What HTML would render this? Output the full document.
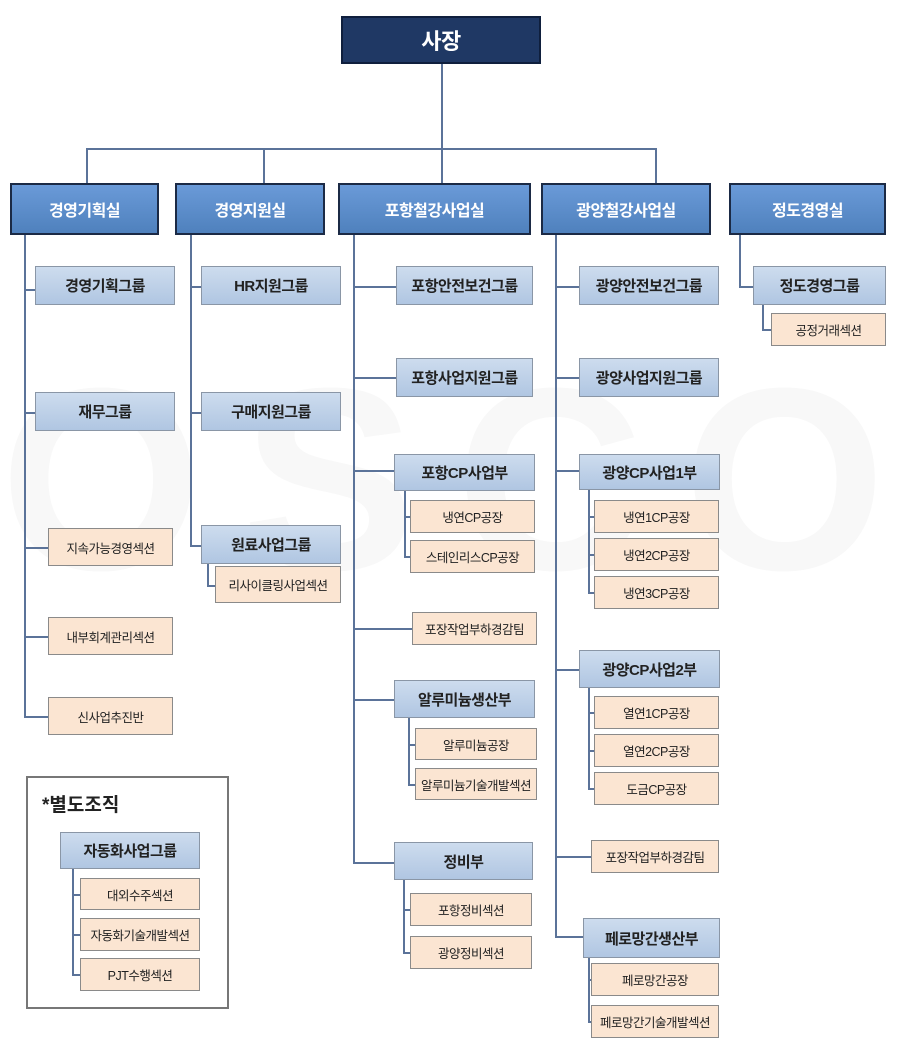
<!DOCTYPE html>
<html><head><meta charset="utf-8"><style>
body{margin:0;width:900px;height:1052px;background:#fff;position:relative;overflow:hidden;font-family:"Liberation Sans","Noto Sans CJK KR","NanumGothic",sans-serif}
div{position:absolute;box-sizing:border-box}
.b{display:flex;align-items:center;justify-content:center;white-space:nowrap;letter-spacing:-0.5px}
.top{background:#1f3864;color:#fff;font-size:22px;font-weight:bold;border:2px solid #0f1f3d}
.l1{background:linear-gradient(#6a9ad8,#4f81bd);color:#fff;font-size:16px;font-weight:bold;border:2px solid #1b2a45}
.l2{background:linear-gradient(#cddcee,#b0c6e2);color:#222;font-size:15px;font-weight:bold;border:1.5px solid #8a96a6}
.l3{background:#fbe5d2;color:#222;font-size:12.5px;border:1.5px solid #8a8a8a}
.h{height:1.5px;background:#5b7399}
.v{width:1.5px;background:#5b7399}
</style></head><body>
<div style="left:0;top:330px;width:900px;height:300px;color:#f8f8f8;font-size:260px;font-weight:bold;line-height:300px;letter-spacing:40px">OSCO</div>

<div class="b top" style="left:341px;top:16px;width:200px;height:48px">사장</div>
<div class="v" style="left:441px;top:64px;height:84px"></div>
<div class="h" style="left:86px;top:148px;width:570px"></div>
<div class="v" style="left:86px;top:148px;height:35px"></div>
<div class="v" style="left:263px;top:148px;height:35px"></div>
<div class="v" style="left:441px;top:148px;height:35px"></div>
<div class="v" style="left:655px;top:148px;height:35px"></div>

<div class="b l1" style="left:10px;top:183px;width:149px;height:52px">경영기획실</div>
<div class="b l1" style="left:175px;top:183px;width:150px;height:52px">경영지원실</div>
<div class="b l1" style="left:338px;top:183px;width:193px;height:52px">포항철강사업실</div>
<div class="b l1" style="left:541px;top:183px;width:170px;height:52px">광양철강사업실</div>
<div class="b l1" style="left:729px;top:183px;width:157px;height:52px">정도경영실</div>

<div class="v" style="left:24px;top:235px;height:481px"></div>
<div class="v" style="left:190px;top:235px;height:311px"></div>
<div class="v" style="left:353px;top:235px;height:627px"></div>
<div class="v" style="left:555px;top:235px;height:702px"></div>
<div class="v" style="left:739px;top:235px;height:52px"></div>

<div class="h" style="left:24px;top:289px;width:11px"></div>
<div class="h" style="left:24px;top:412px;width:11px"></div>
<div class="h" style="left:24px;top:547px;width:24px"></div>
<div class="h" style="left:24px;top:636px;width:24px"></div>
<div class="h" style="left:24px;top:716px;width:24px"></div>
<div class="b l2" style="left:35px;top:266px;width:140px;height:39px">경영기획그룹</div>
<div class="b l2" style="left:35px;top:392px;width:140px;height:39px">재무그룹</div>
<div class="b l3" style="left:48px;top:528px;width:125px;height:38px">지속가능경영섹션</div>
<div class="b l3" style="left:48px;top:617px;width:125px;height:38px">내부회계관리섹션</div>
<div class="b l3" style="left:48px;top:697px;width:125px;height:38px">신사업추진반</div>

<div class="h" style="left:190px;top:286px;width:11px"></div>
<div class="h" style="left:190px;top:412px;width:11px"></div>
<div class="h" style="left:190px;top:545px;width:11px"></div>
<div class="b l2" style="left:201px;top:266px;width:140px;height:39px">HR지원그룹</div>
<div class="b l2" style="left:201px;top:392px;width:140px;height:39px">구매지원그룹</div>
<div class="b l2" style="left:201px;top:525px;width:140px;height:39px">원료사업그룹</div>
<div class="v" style="left:207px;top:564px;height:22px"></div>
<div class="h" style="left:207px;top:585px;width:8px"></div>
<div class="b l3" style="left:215px;top:566px;width:126px;height:37px">리사이클링사업섹션</div>

<div class="h" style="left:353px;top:286px;width:43px"></div>
<div class="h" style="left:353px;top:377px;width:43px"></div>
<div class="h" style="left:353px;top:470px;width:41px"></div>
<div class="h" style="left:353px;top:628px;width:59px"></div>
<div class="h" style="left:353px;top:699px;width:41px"></div>
<div class="h" style="left:353px;top:862px;width:41px"></div>
<div class="b l2" style="left:396px;top:266px;width:137px;height:39px">포항안전보건그룹</div>
<div class="b l2" style="left:396px;top:358px;width:137px;height:39px">포항사업지원그룹</div>
<div class="b l2" style="left:394px;top:454px;width:141px;height:37px">포항CP사업부</div>
<div class="v" style="left:404px;top:491px;height:66px"></div>
<div class="h" style="left:404px;top:516px;width:6px"></div>
<div class="h" style="left:404px;top:556px;width:6px"></div>
<div class="b l3" style="left:410px;top:500px;width:125px;height:33px">냉연CP공장</div>
<div class="b l3" style="left:410px;top:540px;width:125px;height:33px">스테인리스CP공장</div>
<div class="b l3" style="left:412px;top:612px;width:125px;height:33px">포장작업부하경감팀</div>
<div class="b l2" style="left:394px;top:680px;width:141px;height:38px">알루미늄생산부</div>
<div class="v" style="left:408px;top:718px;height:66px"></div>
<div class="h" style="left:408px;top:744px;width:7px"></div>
<div class="h" style="left:408px;top:784px;width:7px"></div>
<div class="b l3" style="left:415px;top:728px;width:122px;height:32px">알루미늄공장</div>
<div class="b l3" style="left:415px;top:768px;width:122px;height:32px">알루미늄기술개발섹션</div>
<div class="b l2" style="left:394px;top:842px;width:139px;height:38px">정비부</div>
<div class="v" style="left:403px;top:880px;height:73px"></div>
<div class="h" style="left:403px;top:909px;width:7px"></div>
<div class="h" style="left:403px;top:952px;width:7px"></div>
<div class="b l3" style="left:410px;top:893px;width:122px;height:33px">포항정비섹션</div>
<div class="b l3" style="left:410px;top:936px;width:122px;height:33px">광양정비섹션</div>

<div class="h" style="left:555px;top:286px;width:24px"></div>
<div class="h" style="left:555px;top:377px;width:24px"></div>
<div class="h" style="left:555px;top:470px;width:24px"></div>
<div class="h" style="left:555px;top:669px;width:24px"></div>
<div class="h" style="left:555px;top:856px;width:36px"></div>
<div class="h" style="left:555px;top:936px;width:28px"></div>
<div class="b l2" style="left:579px;top:266px;width:140px;height:39px">광양안전보건그룹</div>
<div class="b l2" style="left:579px;top:358px;width:140px;height:39px">광양사업지원그룹</div>
<div class="b l2" style="left:579px;top:454px;width:141px;height:36px">광양CP사업1부</div>
<div class="v" style="left:588px;top:490px;height:103px"></div>
<div class="h" style="left:588px;top:516px;width:6px"></div>
<div class="h" style="left:588px;top:554px;width:6px"></div>
<div class="h" style="left:588px;top:592px;width:6px"></div>
<div class="b l3" style="left:594px;top:500px;width:125px;height:33px">냉연1CP공장</div>
<div class="b l3" style="left:594px;top:538px;width:125px;height:33px">냉연2CP공장</div>
<div class="b l3" style="left:594px;top:576px;width:125px;height:33px">냉연3CP공장</div>
<div class="b l2" style="left:579px;top:650px;width:141px;height:38px">광양CP사업2부</div>
<div class="v" style="left:588px;top:688px;height:101px"></div>
<div class="h" style="left:588px;top:712px;width:6px"></div>
<div class="h" style="left:588px;top:750px;width:6px"></div>
<div class="h" style="left:588px;top:788px;width:6px"></div>
<div class="b l3" style="left:594px;top:696px;width:125px;height:33px">열연1CP공장</div>
<div class="b l3" style="left:594px;top:734px;width:125px;height:33px">열연2CP공장</div>
<div class="b l3" style="left:594px;top:772px;width:125px;height:33px">도금CP공장</div>
<div class="b l3" style="left:591px;top:840px;width:128px;height:33px">포장작업부하경감팀</div>
<div class="b l2" style="left:583px;top:918px;width:137px;height:40px">페로망간생산부</div>
<div class="v" style="left:588px;top:958px;height:64px"></div>
<div class="h" style="left:588px;top:979px;width:3px"></div>
<div class="h" style="left:588px;top:1021px;width:3px"></div>
<div class="b l3" style="left:591px;top:963px;width:128px;height:33px">페로망간공장</div>
<div class="b l3" style="left:591px;top:1005px;width:128px;height:33px">페로망간기술개발섹션</div>

<div class="h" style="left:739px;top:286px;width:14px"></div>
<div class="b l2" style="left:753px;top:266px;width:133px;height:39px">정도경영그룹</div>
<div class="v" style="left:762px;top:305px;height:25px"></div>
<div class="h" style="left:762px;top:329px;width:9px"></div>
<div class="b l3" style="left:771px;top:313px;width:115px;height:33px">공정거래섹션</div>

<div style="left:26px;top:776px;width:203px;height:233px;border:2px solid #777;background:#fff"></div>
<div style="left:42px;top:790px;font-size:19px;font-weight:bold;color:#222;white-space:nowrap">*별도조직</div>
<div class="b l2" style="left:60px;top:832px;width:140px;height:37px">자동화사업그룹</div>
<div class="v" style="left:72px;top:869px;height:106px"></div>
<div class="h" style="left:72px;top:894px;width:8px"></div>
<div class="h" style="left:72px;top:934px;width:8px"></div>
<div class="h" style="left:72px;top:974px;width:8px"></div>
<div class="b l3" style="left:80px;top:878px;width:120px;height:32px">대외수주섹션</div>
<div class="b l3" style="left:80px;top:918px;width:120px;height:33px">자동화기술개발섹션</div>
<div class="b l3" style="left:80px;top:958px;width:120px;height:33px">PJT수행섹션</div>
</body></html>
